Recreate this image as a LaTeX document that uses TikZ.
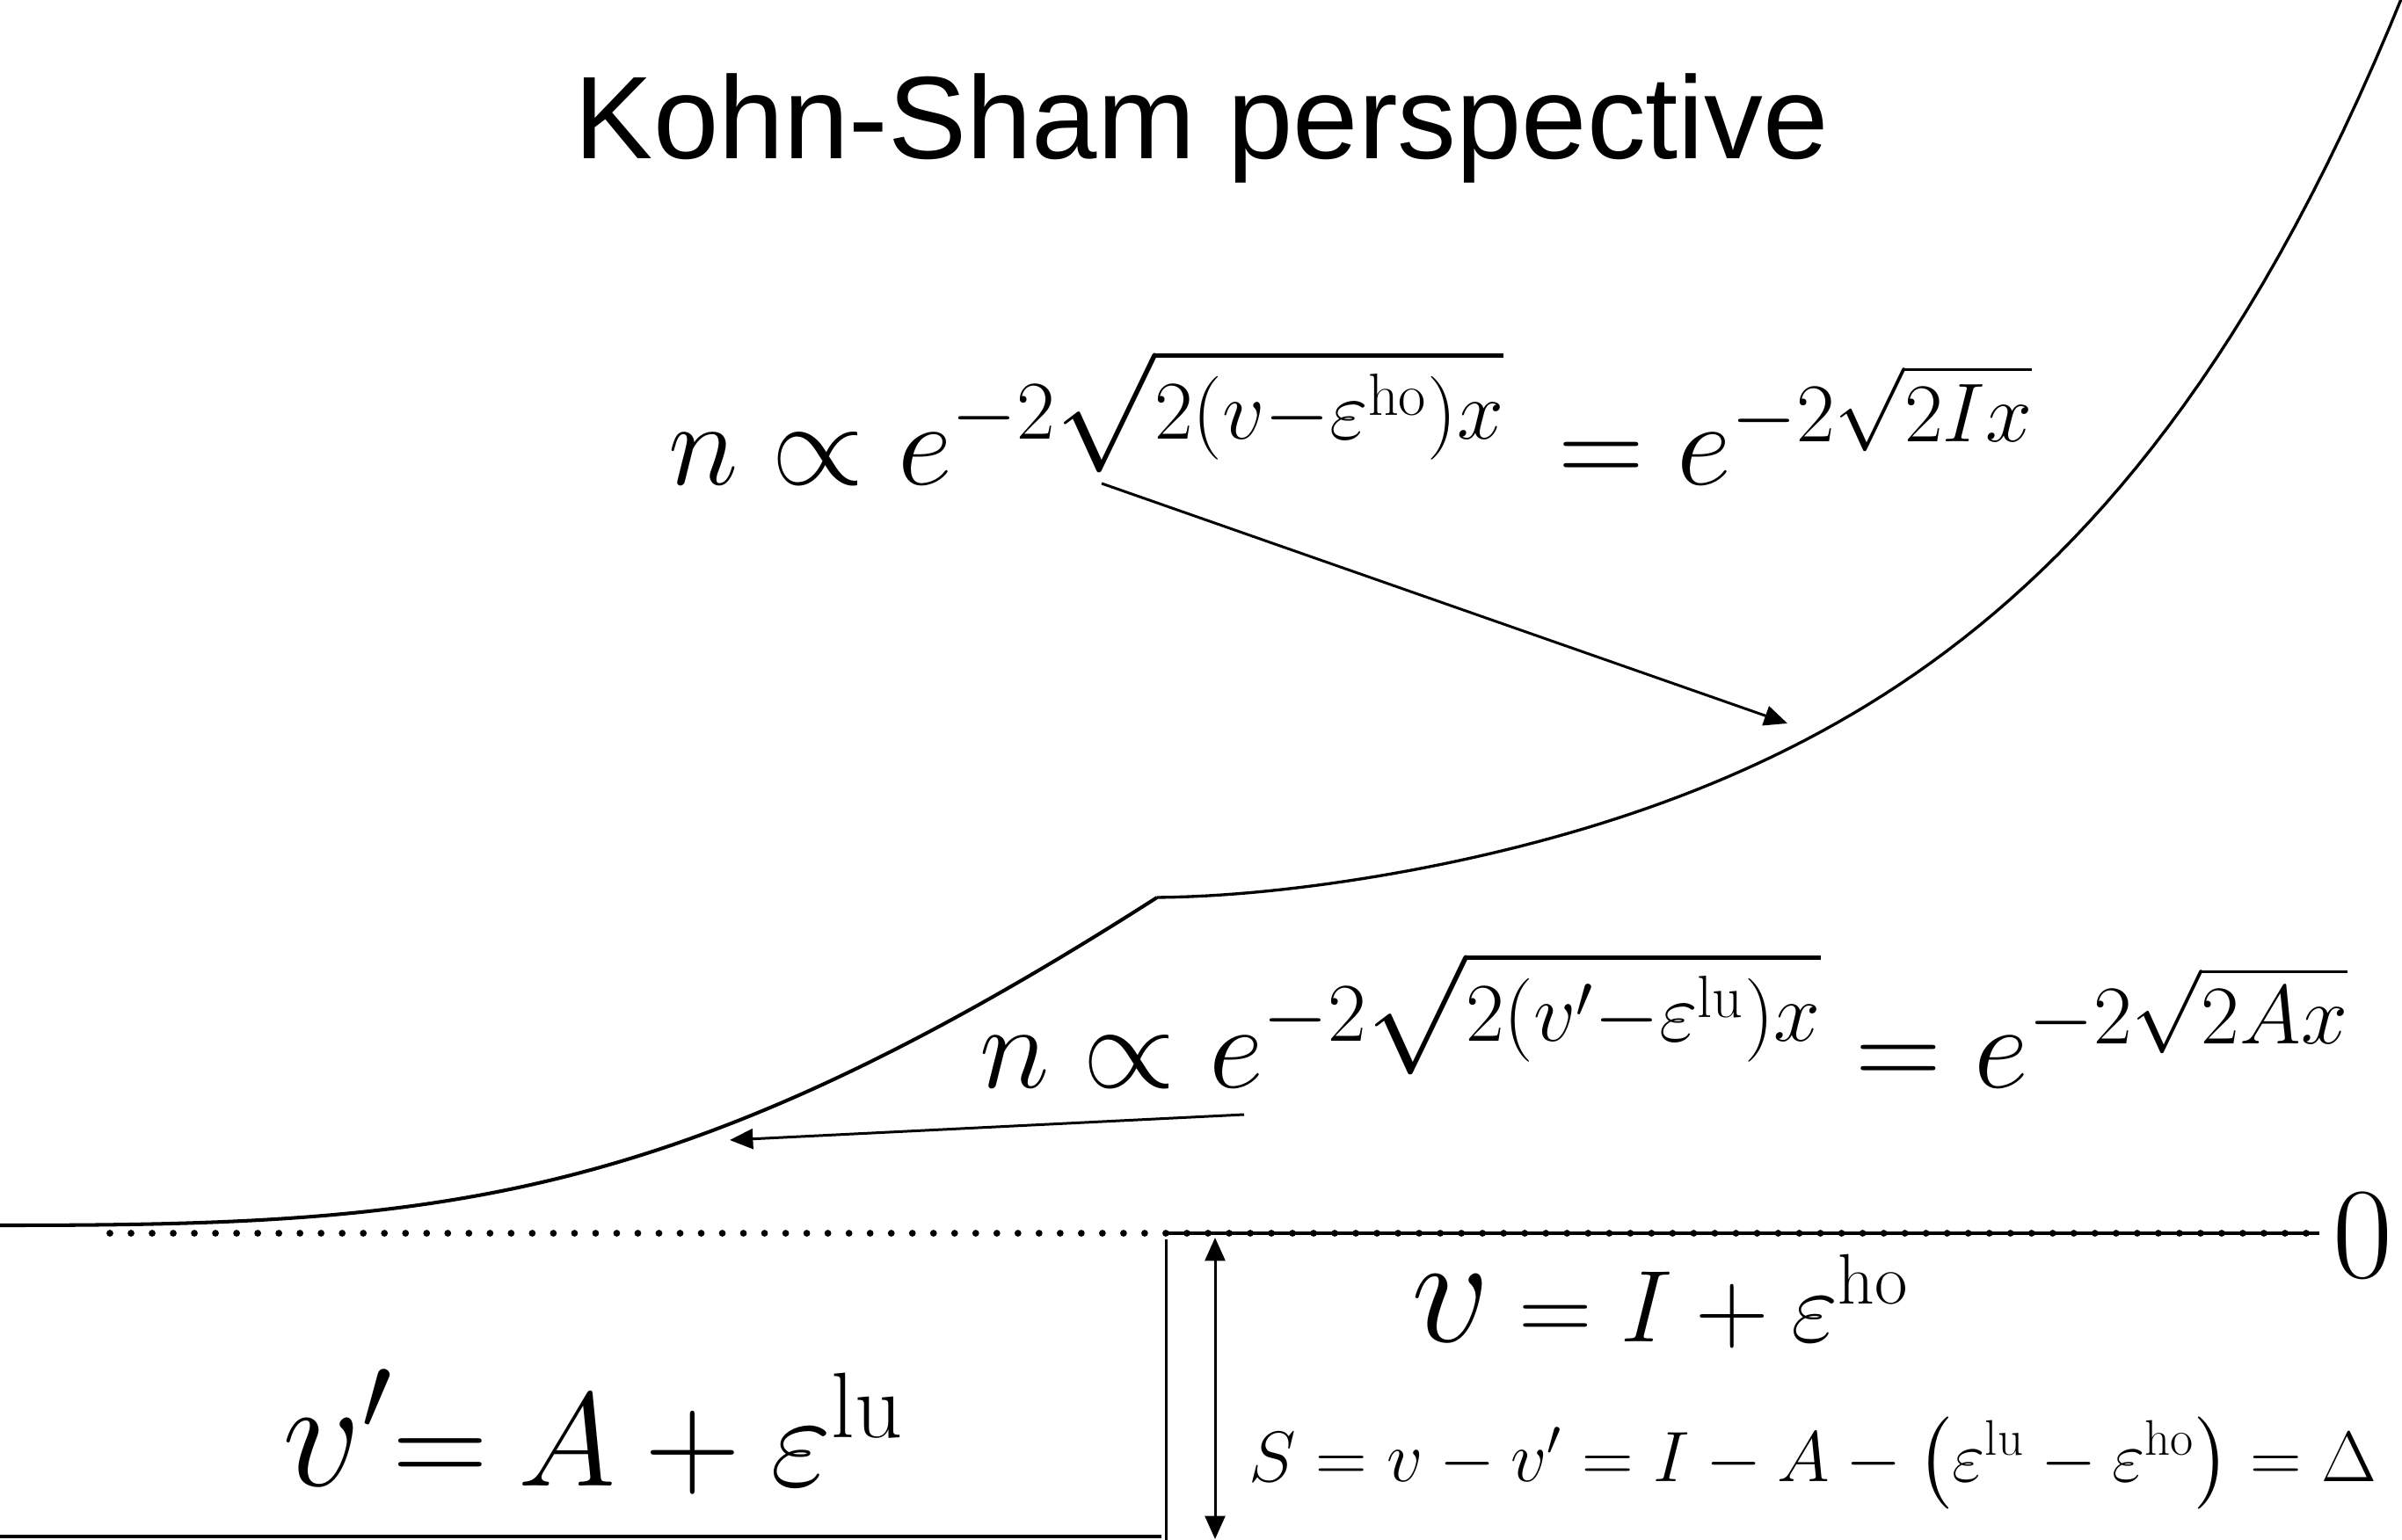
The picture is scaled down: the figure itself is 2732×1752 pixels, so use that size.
\RequirePackage{fix-cm}
\documentclass[tikz,border=0pt]{standalone}
\usepackage{amsmath}
\usepackage{fontspec}
\setsansfont{Liberation Sans}
\usetikzlibrary{arrows.meta}

\newcommand{\bigv}[1]{\mbox{\fontsize{50}{50}\selectfont$#1$}}

\begin{document}
\begin{tikzpicture}[
    x=0.01cm, y=-0.01cm,
    curve/.style={line width=1.15pt},
    pointer/.style={-{Triangle[length=7.5pt,width=6.5pt]}, line width=0.85pt},
    eqn/.style={inner sep=0pt, anchor=base west},
    title/.style={inner sep=0pt, anchor=base, font=\fontsize{38}{40}\selectfont\sffamily}
]
\useasboundingbox (0,0) rectangle (2732,1752);

% --- title ---
\node[title] (head) at (1367,181) {Kohn-Sham perspective};

% --- density curve ---
\coordinate (kink) at (1316,1021);
\draw[curve] (0,1394) .. controls (500,1394) and (766,1373) .. (kink);
\draw[curve, line width=0.95pt] plot[domain=0:1420, samples=80, variable=\d]
  ({1316+\d}, {1021-40.8*(exp(0.0023*\d)-1)+0.084*\d*exp(-\d/250)});

% --- formulas ---
\node[eqn, font=\fontsize{38.6}{40}\selectfont] (densI) at (760,552)
  {$n \propto e^{-2\sqrt{2(v-\varepsilon^{\mathrm{ho}})x}}\,= e^{-2\sqrt{2Ix}}$};
\node[eqn, font=\fontsize{38.6}{40}\selectfont] (densA) at (1114,1237)
  {$n \propto e^{-2\sqrt{2(v'-\varepsilon^{\mathrm{lu}})x}} = e^{-2\sqrt{2Ax}}$};

\node[eqn, font=\fontsize{43}{46}\selectfont] (potA) at (321,1690)
  {$\bigv{v'}{=}\:A + \varepsilon^{\mathrm{lu}}$};
\node[eqn, font=\fontsize{33}{35}\selectfont] (potI) at (1605,1526)
  {$\bigv{v} = I + \varepsilon^{\mathrm{ho}}$};
\node[eqn, font=\fontsize{23.1}{25}\selectfont] (shift) at (1420,1685)
  {$S = v - v' = I - A - \left(\varepsilon^{\mathrm{lu}} - \varepsilon^{\mathrm{ho}}\right) = \Delta$};
\node[eqn, font=\fontsize{42}{44}\selectfont] (zero) at (2653,1453) {$0$};

% --- levels ---
\draw[line width=2.2pt, line cap=round, dash pattern=on 0pt off 6.83pt] (125,1403) -- (2638,1403);
\draw[line width=1.3pt] (1324,1403) -- (2638,1403);
\draw[curve] (0,1748) -- (1321,1748);
\draw[line width=0.85pt] (1326,1410) -- (1326,1752);

% --- arrows ---
\coordinate (fromI) at (1253,550);
\coordinate (tipI)  at (2033,823);
\coordinate (fromA) at (1415,1268);
\coordinate (tipA)  at (830,1297);
\coordinate (gapTop) at (1382,1408);
\coordinate (gapBot) at (1382,1751);
\draw[pointer] (fromI) -- (tipI);
\draw[pointer] (fromA) -- (tipA);
\draw[pointer, {Triangle[length=7.5pt,width=6.5pt]}-{Triangle[length=7.5pt,width=6.5pt]}] (gapTop) -- (gapBot);

\end{tikzpicture}
\end{document}
